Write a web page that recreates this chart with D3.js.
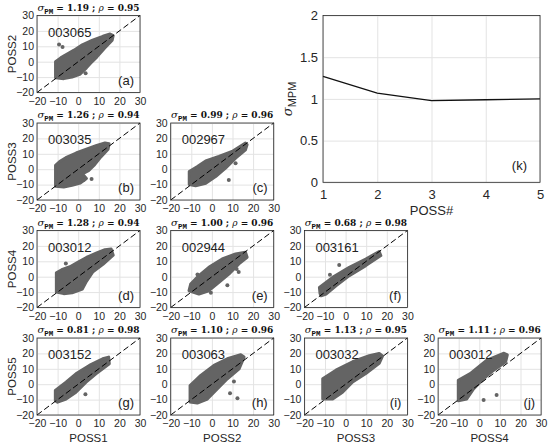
<!DOCTYPE html>
<html>
<head>
<meta charset="utf-8">
<script src="https://cdn.jsdelivr.net/npm/d3@7"></script>
<style>
  body { margin: 0; background: #fff; }
  svg { display: block; }
</style>
</head>
<body>
<script>
// axis names
var rowNames = ['POSS2', 'POSS3', 'POSS4', 'POSS5'];
var colNames = ['POSS1', 'POSS2', 'POSS3', 'POSS4'];
var scatterTicks = [-20, -10, 0, 10, 20, 30];

// one entry per scatter panel, (a) .. (j)
var panelTags = ['(a)', '(b)', '(c)', '(d)', '(e)', '(f)', '(g)', '(h)', '(i)', '(j)'];
var panelIds = ['003065', '003035', '002967', '003012', '002944', '003161', '003152', '003063', '003032', '003012'];
var sigmaPM = [1.19, 1.26, 0.99, 1.28, 1.00, 0.68, 0.81, 1.10, 1.13, 1.11];
var rho = [0.95, 0.94, 0.96, 0.94, 0.96, 0.98, 0.98, 0.96, 0.95, 0.96];

// outline of each dense point cloud
var clouds = [
  [[-11,-10.5],[-11,0],[-8.5,2.5],[-6,4.5],[-2,7.5],[2,11],[7,14],[12,16.5],[15.5,18],[17,17],[16.5,14],[13,9],[9,3],[6,-1],[4,-4],[1,-8],[-3,-10],[-7,-11]],
  [[-11,-11],[-11,2.5],[-9,5],[-6,7.5],[-1,10.5],[4,13],[9,15.5],[13,17],[15,16.5],[14.5,13],[11,8],[8,3],[5,-1],[2,-3],[4,-6],[1,-9],[-3,-10.5],[-7,-11.5]],
  [[-11,-10],[-11,-1.5],[-7,1.7],[-3,5.4],[3.4,8.3],[9.8,11.5],[14,15],[16.3,17],[17.1,16],[16.3,12.6],[11.5,7.2],[6.6,0.7],[1.8,-4.8],[-3,-9.1],[-7.9,-10.7]],
  [[-10.6,-10],[-10.6,2.6],[-8,4.5],[-4,6.5],[0,9.5],[4,12.5],[9,15.5],[13,17.5],[16,18],[17,14],[12,8],[7,3],[4,-3],[2,-8],[-3,-10.5],[-7,-11]],
  [[-11.1,-9.1],[-10.3,-4.8],[-6.3,0.7],[-1.5,6.1],[5,11.5],[11.5,14.8],[16.3,15.9],[17.1,12.6],[13.1,8.3],[8.2,1.7],[3.4,-3.7],[-1.5,-9.1],[-6.3,-11.3]],
  [[-12.4,-11],[-12.7,-7],[-6.3,-0.4],[1.8,6.1],[9.8,11.5],[16.3,16.3],[17.1,13.7],[9.8,7.2],[1.8,0.7],[-4.7,-5.9],[-9.5,-11.3],[-11.9,-12.4]],
  [[-11.1,-10.7],[-11.1,-4.1],[-5.9,1.3],[-1.1,6.7],[5.4,12.2],[11.9,16.5],[14.8,17.6],[15.1,13.3],[8.6,6.7],[3.8,1.3],[-1.1,-5.2],[-5.9,-9.6],[-10,-11.7]],
  [[-10.6,-11.5],[-10.6,-0.9],[-5.4,5.7],[1,12.2],[7.5,16.5],[14,19.1],[15.6,17.6],[13.2,10],[7.5,3.5],[2.7,-3],[-2.2,-9.6],[-7.1,-12.2]],
  [[-11.1,-9.6],[-11.1,3.6],[-4.7,9.1],[3.4,14.6],[11.5,18.5],[16.3,20],[17.9,18.3],[16.3,13.5],[9.8,6.9],[3.4,1.4],[-1.5,-5.2],[-6.3,-9.6]],
  [[-10.2,-10.7],[-10.2,2.5],[-4.4,6.9],[3.8,15.7],[12,20.1],[13.6,19],[12.8,14.6],[7,9.1],[2.1,3.6],[-2.8,-3],[-6.1,-9.6]]
];

// isolated points outside the clouds
var outliers = [
  [[-9.3,11.2],[-7.6,9.6],[3.6,-7.5]],
  [[2.6,-7],[6.5,-6.3]],
  [[8.2,-7],[11.5,3.9],[-7.1,0.7]],
  [[-6,8.5]],
  [[-7,1.5],[12,5],[13,3],[7.5,-5.5],[-0.5,-10.5]],
  [[-3.1,7.6],[-7.6,1.3]],
  [[-4,1.7],[3.5,-6.5]],
  [[8.8,-5.9],[12.4,-9.1],[10.7,1.7]],
  [],
  [[8.4,-7],[2.1,-10.3]]
];

// panel (k)
var possNum = [1, 2, 3, 4, 5];
var sigmaMPM = [1.27, 1.07, 0.98, 0.99, 1.00];
var sigmaTicks = [0, 0.5, 1, 1.5, 2];

var App = {};
App.font = '"Liberation Sans", Arial, sans-serif';
App.serif = '"DejaVu Serif", "Liberation Serif", serif';
App.axisColor = '#262626';
App.gridColor = '#e3e3e3';
App.dotColor = '#646464';

App.main = function() {
  App.svg = d3.select('body').append('svg')
    .attr('width', 550)
    .attr('height', 445)
    .style('font-family', App.font);

  App.pw = 103;
  App.ph = 77;

  var k = 0;
  for (var r = 0; r < 4; r++) {
    for (var c = 0; c <= r; c++) {
      App.drawScatter(k, r, c);
      k++;
    }
  }
  App.drawLine();
}

App.drawScatter = function(k, r, c) {
  var x0 = 37 + 133.7 * c;
  var y0 = 15.5 + 107.5 * r;
  var w = App.pw, h = App.ph;

  var g = App.svg.append('g').attr('transform', 'translate(' + x0 + ',' + y0 + ')');
  var x = d3.scaleLinear().domain([-20, 30]).range([0, w]);
  var y = d3.scaleLinear().domain([-20, 30]).range([h, 0]);

  // grid
  g.append('g')
    .attr('transform', 'translate(0,' + h + ')')
    .call(d3.axisBottom(x).tickValues(scatterTicks).tickSize(-h).tickFormat(''))
    .call(function(s) { s.select('.domain').remove(); s.selectAll('line').attr('stroke', App.gridColor); });
  g.append('g')
    .call(d3.axisLeft(y).tickValues(scatterTicks).tickSize(-w).tickFormat(''))
    .call(function(s) { s.select('.domain').remove(); s.selectAll('line').attr('stroke', App.gridColor); });

  // cloud
  var line = d3.line()
    .x(function(d) { return x(d[0]); })
    .y(function(d) { return y(d[1]); })
    .curve(d3.curveLinearClosed);
  g.append('path')
    .attr('d', line(clouds[k]))
    .attr('fill', App.dotColor)
    .attr('stroke', App.dotColor)
    .attr('stroke-width', 3)
    .attr('stroke-linejoin', 'round');
  g.selectAll('circle.out').data(outliers[k])
    .enter().append('circle')
    .attr('cx', function(d) { return x(d[0]); })
    .attr('cy', function(d) { return y(d[1]); })
    .attr('r', 2)
    .attr('fill', App.dotColor);

  // 1:1 line
  g.append('line')
    .attr('x1', x(-20)).attr('y1', y(-20))
    .attr('x2', x(30)).attr('y2', y(30))
    .attr('stroke', '#000')
    .attr('stroke-width', 1)
    .attr('stroke-dasharray', '6,3');

  // box
  g.append('rect')
    .attr('width', w).attr('height', h)
    .attr('fill', 'none')
    .attr('stroke', App.axisColor)
    .attr('stroke-width', 0.8);

  // tick labels
  g.append('g')
    .attr('transform', 'translate(0,' + h + ')')
    .call(d3.axisBottom(x).tickValues(scatterTicks).tickSize(0).tickPadding(5))
    .call(function(s) {
      s.select('.domain').remove();
      s.selectAll('text').attr('fill', App.axisColor).style('font-size', '10.5px').style('font-family', App.font);
    });
  g.append('g')
    .call(d3.axisLeft(y).tickValues(scatterTicks).tickSize(0).tickPadding(3))
    .call(function(s) {
      s.select('.domain').remove();
      s.selectAll('text').attr('fill', App.axisColor).style('font-size', '10.5px').style('font-family', App.font);
    });

  // id and tag
  g.append('text')
    .attr('x', 11).attr('y', 21)
    .style('font-size', '13px')
    .attr('fill', '#222')
    .text(panelIds[k]);
  g.append('text')
    .attr('x', w - 6).attr('y', h - 8)
    .attr('text-anchor', 'end')
    .style('font-size', '13px')
    .attr('fill', '#222')
    .text(panelTags[k]);

  // title
  var fmt = d3.format('.2f');
  var t = g.append('text')
    .attr('x', w / 2).attr('y', -5)
    .attr('text-anchor', 'middle')
    .attr('fill', '#111')
    .style('font-family', App.serif)
    .style('font-size', '9px')
    .style('font-weight', 'bold');
  t.append('tspan').style('font-style', 'italic').style('font-weight', 'normal').style('font-size', '10px').text('σ');
  t.append('tspan').attr('dy', 3).style('font-size', '7.5px')
    .style('font-family', '"Liberation Mono", monospace').text('PM');
  t.append('tspan').attr('dy', -3).text(' = ' + fmt(sigmaPM[k]) + ' ; ');
  t.append('tspan').style('font-style', 'italic').style('font-weight', 'normal').text('ρ');
  t.append('tspan').text(' = ' + fmt(rho[k]));

  // axis names
  if (c == 0) {
    g.append('text')
      .attr('transform', 'translate(-21,' + (h / 2) + ') rotate(-90)')
      .attr('text-anchor', 'middle')
      .attr('fill', App.axisColor)
      .style('font-size', '11.5px')
      .text(rowNames[r]);
  }
  if (r == 3) {
    g.append('text')
      .attr('x', w / 2).attr('y', h + 27)
      .attr('text-anchor', 'middle')
      .attr('fill', App.axisColor)
      .style('font-size', '11.5px')
      .text(colNames[c]);
  }
}

App.drawLine = function() {
  var x0 = 323, y0 = 15.5, w = 217, h = 166.8;
  var g = App.svg.append('g').attr('transform', 'translate(' + x0 + ',' + y0 + ')');
  var x = d3.scaleLinear().domain([1, 5]).range([0, w]);
  var y = d3.scaleLinear().domain([0, 2]).range([h, 0]);

  g.append('g')
    .attr('transform', 'translate(0,' + h + ')')
    .call(d3.axisBottom(x).tickValues(possNum).tickSize(-h).tickFormat(''))
    .call(function(s) { s.select('.domain').remove(); s.selectAll('line').attr('stroke', App.gridColor); });
  g.append('g')
    .call(d3.axisLeft(y).tickValues(sigmaTicks).tickSize(-w).tickFormat(''))
    .call(function(s) { s.select('.domain').remove(); s.selectAll('line').attr('stroke', App.gridColor); });

  g.append('path')
    .datum(possNum.map(function(p, i) { return [p, sigmaMPM[i]]; }))
    .attr('d', d3.line().x(function(d) { return x(d[0]); }).y(function(d) { return y(d[1]); }))
    .attr('fill', 'none')
    .attr('stroke', '#111')
    .attr('stroke-width', 1.3);

  g.append('rect')
    .attr('width', w).attr('height', h)
    .attr('fill', 'none')
    .attr('stroke', App.axisColor)
    .attr('stroke-width', 0.8);

  g.append('g')
    .attr('transform', 'translate(0,' + h + ')')
    .call(d3.axisBottom(x).tickValues(possNum).tickSize(0).tickPadding(7).tickFormat(d3.format('d')))
    .call(function(s) {
      s.select('.domain').remove();
      s.selectAll('text').attr('fill', App.axisColor).style('font-size', '13px').style('font-family', App.font);
    });
  g.append('g')
    .call(d3.axisLeft(y).tickValues(sigmaTicks).tickSize(0).tickPadding(5).tickFormat(d3.format('')))
    .call(function(s) {
      s.select('.domain').remove();
      s.selectAll('text').attr('fill', App.axisColor).style('font-size', '13px').style('font-family', App.font);
    });

  g.append('text')
    .attr('x', w / 2).attr('y', h + 33)
    .attr('text-anchor', 'middle')
    .attr('fill', App.axisColor)
    .style('font-size', '13px')
    .text('POSS#');

  var yl = g.append('text')
    .attr('transform', 'translate(-31,' + (h / 2) + ') rotate(-90)')
    .attr('text-anchor', 'middle')
    .attr('fill', App.axisColor)
    .style('font-size', '13px');
  yl.append('tspan').style('font-family', App.serif).style('font-style', 'italic').text('σ');
  yl.append('tspan').attr('dy', 4).style('font-size', '11px').text('MPM');

  g.append('text')
    .attr('x', w - 13).attr('y', h - 12)
    .attr('text-anchor', 'end')
    .attr('fill', '#222')
    .style('font-size', '13px')
    .text('(k)');
}

App.main();
</script>
</body>
</html>
